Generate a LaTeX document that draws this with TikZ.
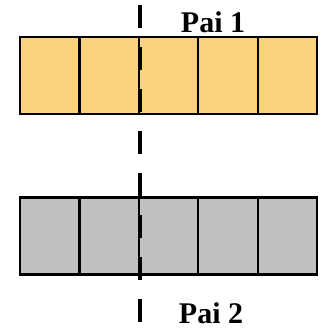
\documentclass[tikz,border=0pt]{standalone}
\usepackage{fontspec}
\setmainfont{Liberation Serif}
\definecolor{cellorange}{HTML}{FDD27D}
\definecolor{cellgray}{HTML}{C0C0C0}
\begin{document}
\begin{tikzpicture}[x=1pt,y=-1pt,
  cellbox/.style={draw=black,line width=2.2pt,minimum width=59.4pt,minimum height=77pt,inner sep=0pt,outer sep=0pt},
  toprow/.style={cellbox,fill=cellorange},
  botrow/.style={cellbox,fill=cellgray},
  cutline/.style={line width=4.5pt,dash pattern=on 23pt off 19pt},
  lbl/.style={font=\fontsize{30}{32}\selectfont\bfseries,anchor=base,inner sep=0pt}]
\useasboundingbox (0,0) rectangle (327,332);
\foreach \i in {0,...,4}{
  \node[toprow] (t\i) at ({20+59.4*\i+29.7},75.5) {};
  \node[botrow] (b\i) at ({20+59.4*\i+29.7},236) {};
}
\coordinate (cuttop) at (140,5);
\coordinate (cutbot) at (140,323);
\draw[cutline] (cuttop) -- (cutbot);
\node[lbl] (pai1) at (213,32) {Pai 1};
\node[lbl] (pai2) at (211,323) {Pai 2};
\end{tikzpicture}
\end{document}
